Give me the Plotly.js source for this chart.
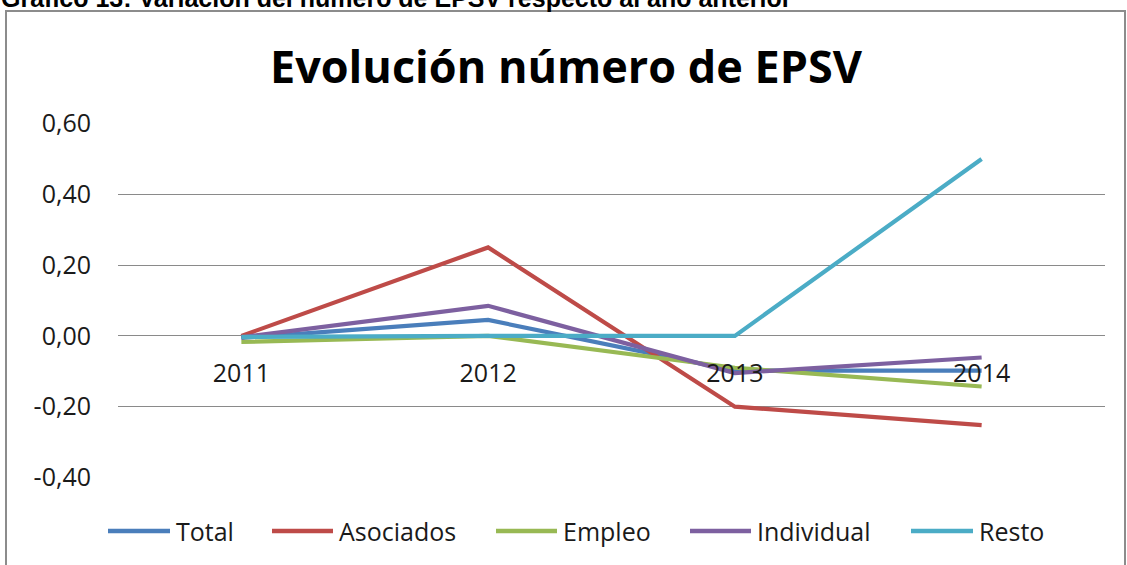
<!DOCTYPE html>
<html>
<head>
<meta charset="utf-8">
<script src="https://cdn.plot.ly/plotly-3.0.1.min.js"></script>
<style>
  html, body { margin: 0; padding: 0; background: #ffffff; }
  #chart { width: 1127px; height: 565px; }
</style>
</head>
<body>
<div id="chart"></div>
<script>
// ---- data ----
const years = ['2011', '2012', '2013', '2014'];
const seriesNames = ['Total', 'Asociados', 'Empleo', 'Individual', 'Resto'];
const total      = [-0.006, 0.045, -0.098, -0.098];
const asociados  = [0.000, 0.250, -0.200, -0.252];
const empleo     = [-0.017, 0.000, -0.090, -0.143];
const individual = [-0.004, 0.085, -0.105, -0.061];
const resto      = [-0.003, 0.000, 0.000, 0.500];
const yTickVals  = [-0.4, -0.2, 0.0, 0.2, 0.4, 0.6];
const yTickText  = ['-0,40', '-0,20', '0,00', '0,20', '0,40', '0,60'];
const chartTitle = 'Evolución número de EPSV';
const caption    = 'Gráfico 13: Variación del número de EPSV respecto al año anterior';

// ---- style ----
const colors = ['#4a7ebb', '#be4b48', '#98b954', '#7d60a0', '#4bacc6'];
const values = [total, asociados, empleo, individual, resto];
const W = 1127, H = 565;
const M = { l: 118, r: 22, t: 123, b: 87 };
const plotW = W - M.l - M.r, plotH = H - M.t - M.b;
const px = p => (p - M.l) / plotW;        // pixel x -> paper x
const py = p => (H - M.b - p) / plotH;    // pixel y -> paper y
const FONT = 'Open Sans, DejaVu Sans, sans-serif';

const traces = seriesNames.map((name, i) => ({
  type: 'scatter',
  mode: 'lines',
  name: name,
  x: years,
  y: values[i],
  line: { color: colors[i], width: 4.2 },
  showlegend: false,
  hoverinfo: 'x+y+name'
}));

// manual legend (long line samples like Excel)
const legendItems = [
  { lx0: 108, lx1: 170, tx: 174 },
  { lx0: 272, lx1: 333, tx: 337 },
  { lx0: 496, lx1: 557, tx: 561 },
  { lx0: 690, lx1: 751, tx: 755 },
  { lx0: 911, lx1: 973, tx: 977 }
];
const legendY = 531;

const shapes = [
  // outer chart border
  { type: 'rect', xref: 'paper', yref: 'paper',
    x0: px(6), x1: px(1125), y0: py(11), y1: py(600),
    line: { color: '#8c8c8c', width: 2 }, fillcolor: 'rgba(0,0,0,0)', layer: 'below' }
];
const annotations = [
  { text: caption, xref: 'paper', yref: 'paper', x: px(-1), y: py(-2),
    xanchor: 'left', yanchor: 'middle', showarrow: false,
    font: { family: 'Liberation Sans, Arial, sans-serif', size: 25, color: '#000', weight: 700 } }
];
legendItems.forEach((it, i) => {
  shapes.push({ type: 'line', xref: 'paper', yref: 'paper',
    x0: px(it.lx0), x1: px(it.lx1), y0: py(legendY), y1: py(legendY),
    line: { color: colors[i], width: 4.5 } });
  annotations.push({ text: seriesNames[i], xref: 'paper', yref: 'paper',
    x: px(it.tx), y: py(legendY), xanchor: 'left', yanchor: 'middle',
    showarrow: false, font: { family: FONT, size: 25, color: '#1a1a1a' } });
});

const layout = {
  width: W, height: H,
  margin: M,
  paper_bgcolor: '#ffffff',
  plot_bgcolor: '#ffffff',
  showlegend: false,
  title: {
    text: chartTitle,
    font: { family: FONT, size: 45, color: '#000000', weight: 700 },
    xref: 'container', yref: 'container',
    x: 566 / W, xanchor: 'center',
    y: 1 - 67 / H, yanchor: 'middle'
  },
  xaxis: {
    type: 'category',
    range: [-0.5, 3.5],
    anchor: 'free',
    position: 0.4,
    showgrid: false,
    zeroline: false,
    showline: false,
    ticks: '',
    ticklabelstandoff: 20,
    tickfont: { family: FONT, size: 25, color: '#1a1a1a' }
  },
  yaxis: {
    range: [-0.4015, 0.6015],
    tickvals: yTickVals,
    ticktext: yTickText,
    showgrid: true,
    gridcolor: '#8a8a8a',
    gridwidth: 1,
    zeroline: false,
    showline: false,
    ticks: '',
    ticklabelstandoff: 26,
    tickfont: { family: FONT, size: 25, color: '#1a1a1a' }
  },
  shapes: shapes,
  annotations: annotations
};

Plotly.newPlot('chart', traces, layout, { displayModeBar: false, staticPlot: true });
</script>
</body>
</html>
